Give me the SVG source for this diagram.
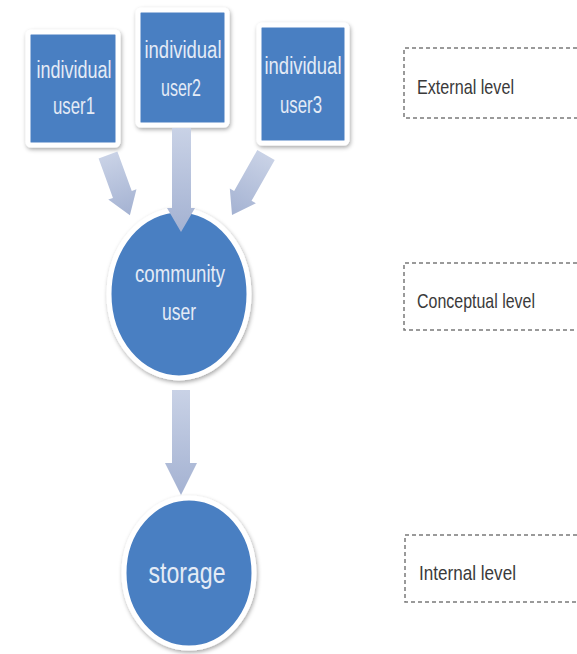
<svg xmlns="http://www.w3.org/2000/svg" width="577" height="654" viewBox="0 0 577 654">
<defs>
<filter id="sh" x="-20%" y="-20%" width="140%" height="140%">
<feDropShadow dx="1" dy="2" stdDeviation="2" flood-color="#000" flood-opacity="0.35"/>
</filter>
<linearGradient id="ag" x1="0" y1="0" x2="0" y2="1">
<stop offset="0" stop-color="#c9d2e6"/>
<stop offset="1" stop-color="#a4b2d2"/>
</linearGradient>
<polygon id="arr64" points="-10,0 10,0 10,42 15,42 0,64 -15,42 -10,42"/>
<polygon id="arr69" points="-10,0 10,0 10,47 15,47 0,69 -15,47 -10,47"/>
</defs>
<style>
.node{fill:#4a7fc2;stroke:#ffffff;stroke-width:5;filter:url(#sh)}
.nt{font-family:"Liberation Sans",Arial,sans-serif;font-size:23px;fill:#e4ebf6;text-anchor:middle}
.lvl{fill:#ffffff;stroke:#7a7a7a;stroke-width:1.5;stroke-dasharray:4 3}
.lt{font-family:"Liberation Sans",Arial,sans-serif;font-size:21px;fill:#3a3a3a}
.conn{fill:url(#ag)}
</style>
<rect width="577" height="654" fill="#ffffff"/>

<g id="user1">
<rect class="node" x="28" y="32" width="90" height="113" rx="3"/>
<text class="nt" x="74" y="78" textLength="75" lengthAdjust="spacingAndGlyphs">individual</text>
<text class="nt" x="74" y="114" textLength="42" lengthAdjust="spacingAndGlyphs">user1</text>
</g>
<g id="user2">
<rect class="node" x="138" y="10" width="89" height="115" rx="3"/>
<text class="nt" x="183" y="58" textLength="77" lengthAdjust="spacingAndGlyphs">individual</text>
<text class="nt" x="181" y="96" textLength="40" lengthAdjust="spacingAndGlyphs">user2</text>
</g>
<g id="user3">
<rect class="node" x="259" y="25" width="88" height="118" rx="3"/>
<text class="nt" x="303" y="74" textLength="77" lengthAdjust="spacingAndGlyphs">individual</text>
<text class="nt" x="301" y="113" textLength="42" lengthAdjust="spacingAndGlyphs">user3</text>
</g>
<g id="community">
<ellipse class="node" cx="179" cy="294" rx="70" ry="84"/>
<text class="nt" x="180" y="282" textLength="90" lengthAdjust="spacingAndGlyphs">community</text>
<text class="nt" x="179" y="320" textLength="34" lengthAdjust="spacingAndGlyphs">user</text>
</g>
<g id="storage">
<ellipse class="node" cx="189" cy="573" rx="65" ry="75"/>
<text class="nt" x="187" y="583" style="font-size:29px" textLength="77" lengthAdjust="spacingAndGlyphs">storage</text>
</g>

<g id="external">
<path class="lvl" d="M577,48 H404 V118 H577"/>
<text class="lt" x="417" y="94" textLength="97" lengthAdjust="spacingAndGlyphs">External level</text>
</g>
<g id="conceptual">
<path class="lvl" d="M577,263 H404 V330 H577"/>
<text class="lt" x="417" y="308" textLength="118" lengthAdjust="spacingAndGlyphs">Conceptual level</text>
</g>
<g id="internal">
<path class="lvl" d="M577,535 H405 V602 H577"/>
<text class="lt" x="419" y="580" textLength="97" lengthAdjust="spacingAndGlyphs">Internal level</text>
</g>

<g id="connectors">
<use class="conn" href="#arr64" transform="translate(108,155) rotate(-20)"/>
<use class="conn" href="#arr69" transform="translate(266,155) rotate(29.5)"/>
<polygon class="conn" points="172,128 191,128 191,208 195,208 181,232 167,208 172,208"/>
<polygon class="conn" points="172,390 190,390 190,463 197,463 181,495 165,463 172,463"/>
</g>
</svg>
